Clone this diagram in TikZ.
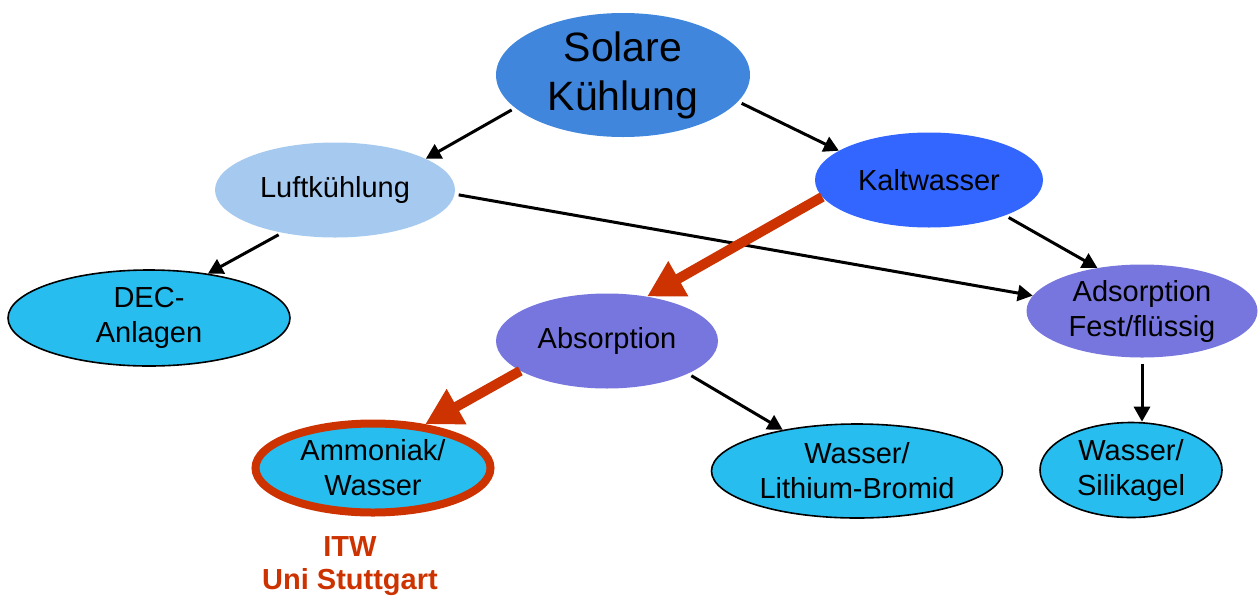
\documentclass[tikz,border=0pt]{standalone}
\usepackage{fontspec}
\setmainfont{Liberation Sans}
\usetikzlibrary{arrows.meta, shapes.geometric}
\definecolor{solblue}{HTML}{3F86DC}
\definecolor{luftblue}{HTML}{A6C9EF}
\definecolor{kaltblue}{HTML}{3366FF}
\definecolor{cyanfill}{HTML}{27BDEE}
\definecolor{violetfill}{HTML}{7676DE}
\definecolor{itwred}{HTML}{CC3300}
\tikzset{blob/.style={ellipse, inner sep=0pt, align=center, font=\fontsize{29}{35}\selectfont}}
\tikzset{leaf/.style={blob, draw=black, line width=1.6pt, fill=cyanfill}}
\tikzset{blk/.style={-{Triangle[length=15pt,width=16pt]}, line width=3pt, shorten <=4pt}}
\tikzset{redarr/.style={-{Triangle[length=36pt,width=38pt]}, line width=10pt, draw=itwred}}

\begin{document}
\begin{tikzpicture}[x=1pt,y=-1pt]
\useasboundingbox (0,0) rectangle (1259,598);

\draw[]
 (623,75) node[blob, fill=solblue, minimum width=254pt, minimum height=124pt,
   font=\fontsize{41}{49}\selectfont] (sol) {Solare\\K\"uhlung}
 (335,190) node[blob, fill=luftblue, minimum width=240pt, minimum height=95pt] (luft) {Luftk\"uhlung}
 (929,180) node[blob, fill=kaltblue, minimum width=228pt, minimum height=95pt] (kalt) {Kaltwasser}
 (149,318) node[leaf, minimum width=282pt, minimum height=96pt] (dec) {DEC-\\Anlagen}
 (607,341) node[blob, fill=violetfill, minimum width=222pt, minimum height=95pt] (abs) {Absorption}
 (1142,311) node[blob, fill=violetfill, minimum width=231pt, minimum height=93pt] (ads) {Adsorption\\Fest/fl\"ussig}
 (373,468) node[leaf, draw=itwred, line width=8pt, minimum width=235pt, minimum height=89pt] (amm) {Ammoniak/\\Wasser}
 (857,471) node[leaf, minimum width=291pt, minimum height=94pt] (lith) {Wasser/\\Lithium-Bromid}
 (1131,470) node[leaf, minimum width=182pt, minimum height=95pt] (sil) {Wasser/\\Silikagel}
 (350,566) node[align=center, text=itwred, font=\fontsize{29}{33}\selectfont\bfseries] (itw) {ITW\\Uni Stuttgart};

% black arrows
\draw[]
 (sol.197) edge[blk] (luft.19)
 (sol.347) edge[blk] (kalt.162)
 (luft.219) edge[blk] (dec.37)
 (luft.358) edge[blk] (ads.172)
 (kalt.335) edge[blk] (ads.136)
 (abs.338) edge[blk] (lith.151)
 (ads.south) edge[blk, shorten <=6pt] (ads.south |- sil.north);

% red arrows
\draw[]
 (kalt.189) edge[redarr] (abs.48)
 (abs.199) edge[redarr] (amm.40);

\end{tikzpicture}
\end{document}
